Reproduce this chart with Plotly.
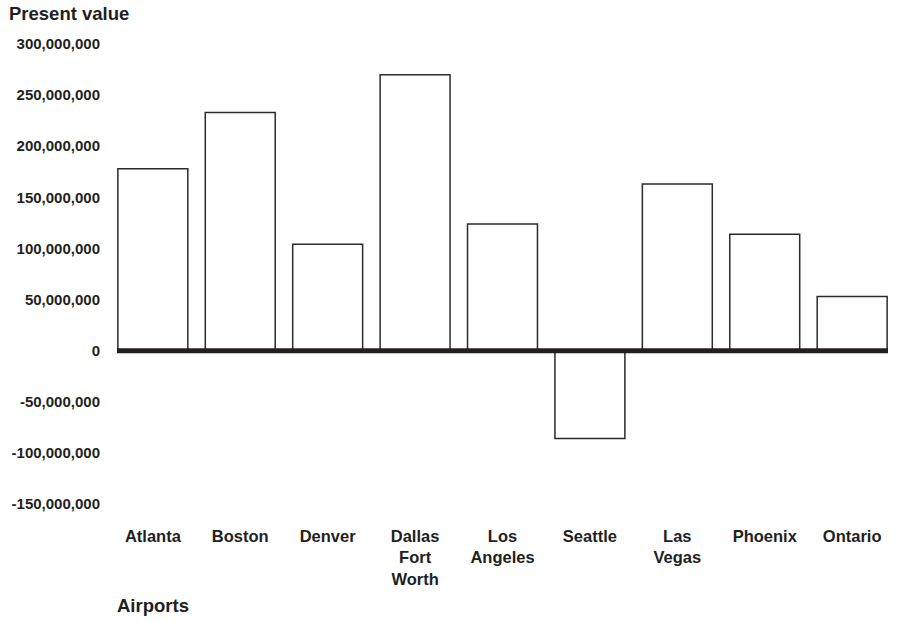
import plotly.graph_objects as go

airports = ["Atlanta", "Boston", "Denver", "Dallas<br>Fort<br>Worth", "Los<br>Angeles",
            "Seattle", "Las<br>Vegas", "Phoenix", "Ontario"]
present_value = [178e6, 233e6, 104e6, 270e6, 124e6, -86e6, 163e6, 114e6, 53e6]
y_ticks = [-150e6, -100e6, -50e6, 0, 50e6, 100e6, 150e6, 200e6, 250e6, 300e6]
y_tick_labels = [f"{int(v):,}" for v in y_ticks]

TXT = "#231f20"
FONT = "Liberation Sans, Arial, Helvetica, sans-serif"

fig = go.Figure(go.Bar(
    x=list(range(len(airports))),
    y=present_value,
    marker=dict(color="white", line=dict(color="#2b2b2b", width=1.5)),
    width=0.8,
))

fig.add_shape(type="line", xref="paper", yref="y", x0=0, x1=1, y0=0, y1=0,
              line=dict(color=TXT, width=5), layer="above")

fig.update_layout(
    width=897, height=621,
    margin=dict(l=117, r=9, t=44, b=117),
    plot_bgcolor="white", paper_bgcolor="white",
    showlegend=False,
    font=dict(family=FONT, color=TXT),
    xaxis=dict(
        range=[-0.41, 8.41], automargin=False,
        tickmode="array", tickvals=list(range(len(airports))), ticktext=airports,
        tickfont=dict(size=16.5, weight="bold", color=TXT),
        ticks="outside", ticklen=17, tickcolor="rgba(0,0,0,0)",
        showgrid=False, zeroline=False, showline=False,
    ),
    yaxis=dict(
        range=[-150e6, 300e6], automargin=False,
        tickmode="array", tickvals=y_ticks, ticktext=y_tick_labels,
        tickfont=dict(size=15, weight="bold", color=TXT),
        ticks="outside", ticklen=13, tickcolor="rgba(0,0,0,0)",
        showgrid=False, zeroline=False, showline=False,
    ),
    annotations=[
        dict(text="<b>Present value</b>", xref="paper", yref="paper",
             x=-0.1427, y=1.067, xanchor="left", yanchor="middle",
             showarrow=False, font=dict(size=18.5, color=TXT)),
        dict(text="<b>Airports</b>", xref="paper", yref="paper",
             x=-0.003, y=-0.22, xanchor="left", yanchor="middle",
             showarrow=False, font=dict(size=18.5, color=TXT)),
    ],
)

fig.write_html("out.html", config={"displayModeBar": False},
               post_script="document.body.style.margin='0px';")
